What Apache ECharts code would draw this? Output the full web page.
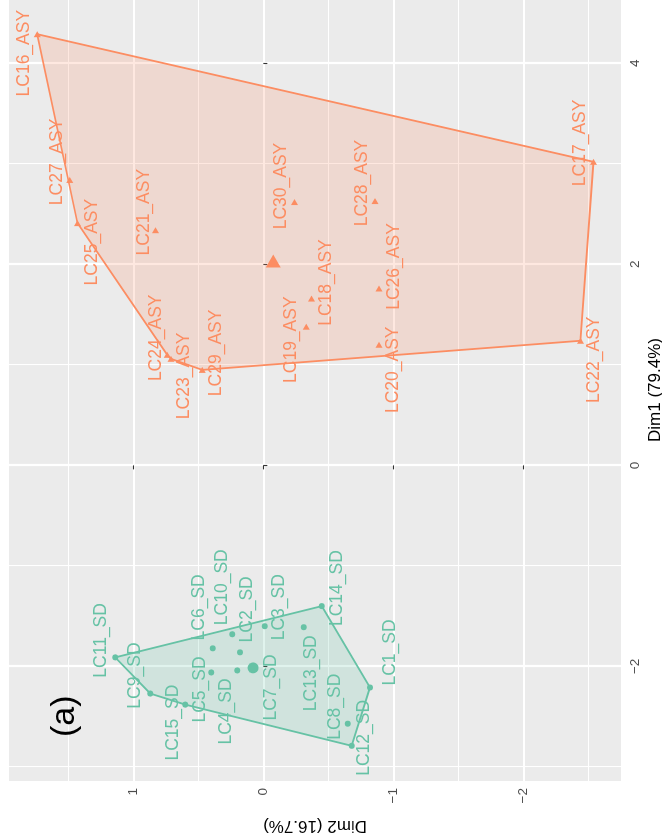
<!DOCTYPE html>
<html>
<head>
<meta charset="utf-8">
<script src="https://cdn.jsdelivr.net/npm/echarts@6/dist/echarts.min.js"></script>
<style>
  html, body { margin: 0; padding: 0; background: #fff; width: 662px; height: 840px; overflow: hidden; }
  /* The biplot is laid out landscape and turned a quarter turn counter-clockwise */
  #chart { position: absolute; left: -89px; top: 89px; width: 840px; height: 662px;
           transform: rotate(-90deg); transform-origin: 50% 50%; }
</style>
</head>
<body>
<div id="chart"></div>
<script>
// ---- PCA individual coordinates ----
const sdNames = ['LC1_SD','LC2_SD','LC3_SD','LC4_SD','LC5_SD','LC6_SD','LC7_SD','LC8_SD',
                 'LC9_SD','LC10_SD','LC11_SD','LC12_SD','LC13_SD','LC14_SD','LC15_SD'];
const sdDim1 = [-2.21,-1.86,-1.60,-2.04,-2.06,-1.82,-2.02,-2.57,-2.27,-1.68,-1.91,-2.79,-1.61,-1.40,-2.38];
const sdDim2 = [-0.82, 0.18,-0.01, 0.20, 0.40, 0.39, 0.08,-0.65, 0.87, 0.24, 1.14,-0.68,-0.31,-0.45, 0.60];

const asyNames = ['LC16_ASY','LC17_ASY','LC18_ASY','LC19_ASY','LC20_ASY','LC21_ASY','LC22_ASY','LC23_ASY',
                  'LC24_ASY','LC25_ASY','LC26_ASY','LC27_ASY','LC28_ASY','LC29_ASY','LC30_ASY'];
const asyDim1 = [4.29, 3.02, 1.66, 1.38, 1.20, 2.34, 1.24, 1.06, 1.10, 2.41, 1.76, 2.84, 2.63, 0.95, 2.62];
const asyDim2 = [1.74,-2.54,-0.37,-0.33,-0.89, 0.83,-2.44, 0.71, 0.74, 1.43,-0.89, 1.49,-0.86, 0.47,-0.24];

const dim1Ticks = [-2, 0, 2, 4];
const dim2Ticks = [-2, -1, 0, 1];

// ---- styling ----
const FONT = 'Liberation Sans, Arial, Helvetica, sans-serif';
const GREEN = '#66C2A5';
const ORANGE = '#FC8D62';

// text nudges (px) so the repelled labels sit beside their points
const labelNudge = {
  LC1_SD:[35,20], LC2_SD:[43,7], LC3_SD:[19,15], LC4_SD:[-41,-11], LC5_SD:[-17,-11],
  LC6_SD:[41,-13], LC7_SD:[-19,18], LC8_SD:[17,-13], LC9_SD:[18,-15], LC10_SD:[47,-10],
  LC11_SD:[17,-14], LC12_SD:[8,12], LC13_SD:[-46,8], LC14_SD:[18,15], LC15_SD:[-18,-12],
  LC16_ASY:[-19,-13], LC17_ASY:[19,-13], LC18_ASY:[16,15], LC19_ASY:[-13,-15], LC20_ASY:[-25,14],
  LC21_ASY:[18,-11], LC22_ASY:[-19,14], LC23_ASY:[-17,13], LC24_ASY:[17,-11], LC25_ASY:[-19,15],
  LC26_ASY:[22,15], LC27_ASY:[18,-13], LC28_ASY:[18,-13], LC29_ASY:[17,14], LC30_ASY:[16,-13]
};

function pairs(xs, ys) { return xs.map((x, i) => [x, ys[i]]); }
function mean(a) { return a.reduce((s, v) => s + v, 0) / a.length; }

// Andrew's monotone chain convex hull
function convexHull(pts) {
  const p = pts.slice().sort((a, b) => a[0] - b[0] || a[1] - b[1]);
  const cross = (o, a, b) => (a[0] - o[0]) * (b[1] - o[1]) - (a[1] - o[1]) * (b[0] - o[0]);
  const lower = [];
  for (const q of p) {
    while (lower.length >= 2 && cross(lower[lower.length - 2], lower[lower.length - 1], q) <= 0) lower.pop();
    lower.push(q);
  }
  const upper = [];
  for (let i = p.length - 1; i >= 0; i--) {
    const q = p[i];
    while (upper.length >= 2 && cross(upper[upper.length - 2], upper[upper.length - 1], q) <= 0) upper.pop();
    upper.push(q);
  }
  lower.pop(); upper.pop();
  return lower.concat(upper);
}

function hexToRgba(hex, a) {
  const n = parseInt(hex.slice(1), 16);
  return `rgba(${(n >> 16) & 255},${(n >> 8) & 255},${n & 255},${a})`;
}

function hullSeries(xs, ys, color) {
  const hull = convexHull(pairs(xs, ys));
  return {
    type: 'custom', coordinateSystem: 'cartesian2d', silent: true, z: 1,
    data: [[mean(xs), mean(ys)]],
    renderItem: (params, api) => ({
      type: 'polygon',
      shape: { points: hull.map(p => api.coord(p)) },
      style: { fill: hexToRgba(color, 0.2), stroke: color, lineWidth: 1.8 }
    })
  };
}

function pointSeries(names, xs, ys, color, symbol, size, rot) {
  return {
    type: 'scatter', z: 3, symbol: symbol, symbolSize: size, symbolRotate: rot || 0,
    itemStyle: { color: color, opacity: 1 },
    data: names.map((n, i) => ({
      name: n, value: [xs[i], ys[i]],
      label: { offset: labelNudge[n] || [0, -14] }
    })),
    label: {
      show: true, position: 'inside', align: 'center', verticalAlign: 'middle',
      formatter: p => p.name, color: color, fontSize: 17.5, fontFamily: FONT
    },
    emphasis: { disabled: true }
  };
}

function centroidSeries(xs, ys, color, symbol, size, rot) {
  return {
    type: 'scatter', z: 4, symbol: symbol, symbolSize: size, symbolRotate: rot || 0, silent: true,
    itemStyle: { color: color, opacity: 1 },
    data: [[mean(xs), mean(ys)]]
  };
}

const minus = v => String(v).replace('-', '\u2212');

const chart = echarts.init(document.getElementById('chart'), null, { renderer: 'canvas' });
chart.setOption({
  animation: false,
  backgroundColor: '#ffffff',
  grid: {
    left: 59, top: 9, width: 782, height: 612,
    show: true, backgroundColor: '#EBEBEB', borderWidth: 0,
    containLabel: false, outerBoundsMode: 'none'
  },
  xAxis: {
    type: 'value', min: -3.14, max: 4.64, minInterval: 2, maxInterval: 2,
    name: 'Dim1 (79.4%)', nameLocation: 'middle', nameGap: 19,
    nameTextStyle: { color: '#000', fontSize: 17, fontFamily: FONT },
    axisLine: { show: false },
    axisTick: { show: true, length: 4, customValues: dim1Ticks, lineStyle: { color: '#333', width: 1.1 } },
    axisLabel: { customValues: dim1Ticks, color: '#4D4D4D', fontSize: 13.5, margin: 7,
                 fontFamily: FONT, formatter: minus, showMinLabel: true, showMaxLabel: true },
    splitLine: { show: true, lineStyle: { color: '#FFFFFF', width: 2.2 } },
    minorTick: { show: false, splitNumber: 2 },
    minorSplitLine: { show: true, lineStyle: { color: '#FFFFFF', width: 1.1 } }
  },
  yAxis: {
    type: 'value', min: -2.752, max: 1.957, minInterval: 1, maxInterval: 1,
    name: 'Dim2 (16.7%)', nameLocation: 'middle', nameGap: 36, nameRotate: 90,
    nameTextStyle: { color: '#000', fontSize: 17, fontFamily: FONT },
    axisLine: { show: false },
    axisTick: { show: true, length: 4, customValues: dim2Ticks, lineStyle: { color: '#333', width: 1.1 } },
    axisLabel: { customValues: dim2Ticks, color: '#4D4D4D', fontSize: 13.5, margin: 7,
                 fontFamily: FONT, formatter: minus },
    splitLine: { show: true, lineStyle: { color: '#FFFFFF', width: 2.2 } },
    minorTick: { show: false, splitNumber: 2 },
    minorSplitLine: { show: true, lineStyle: { color: '#FFFFFF', width: 1.1 } }
  },
  graphic: [{
    type: 'text', left: 103, top: 48, z: 10,
    style: { text: '(a)', fill: '#000', fontSize: 34, fontFamily: FONT }
  }],
  series: [
    hullSeries(sdDim1, sdDim2, GREEN),
    hullSeries(asyDim1, asyDim2, ORANGE),
    pointSeries(sdNames, sdDim1, sdDim2, GREEN, 'circle', 6),
    pointSeries(asyNames, asyDim1, asyDim2, ORANGE, 'triangle', [7, 6], -90),
    centroidSeries(sdDim1, sdDim2, GREEN, 'circle', 11),
    centroidSeries(asyDim1, asyDim2, ORANGE, 'triangle', [15, 13], -90)
  ]
});
</script>
</body>
</html>
